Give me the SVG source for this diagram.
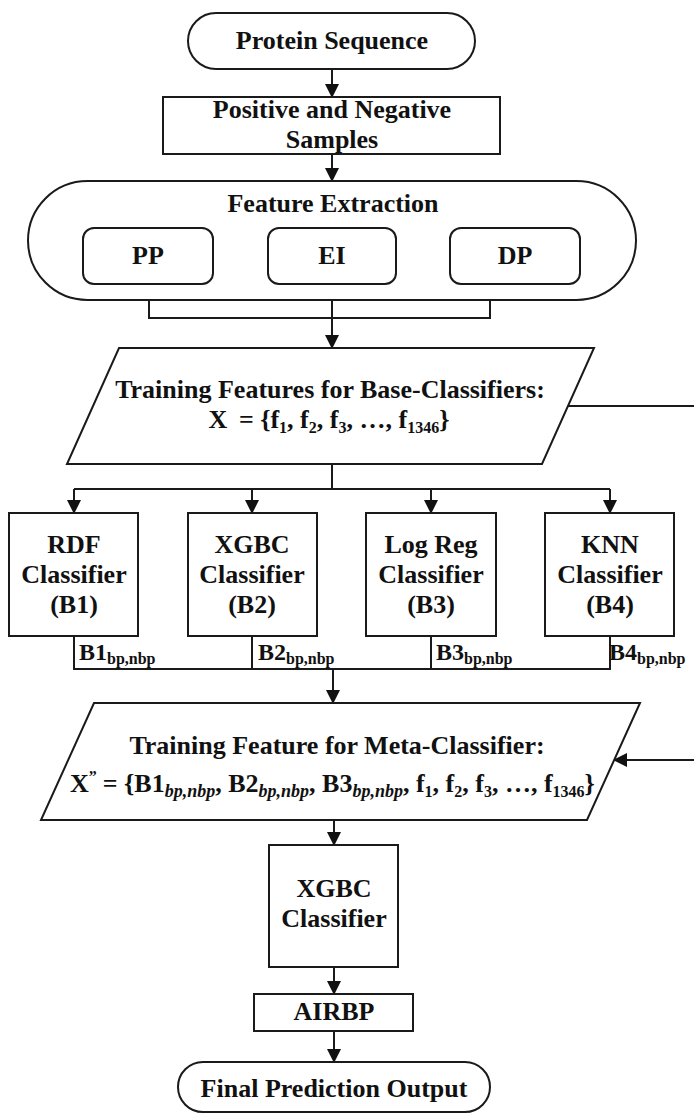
<svg xmlns="http://www.w3.org/2000/svg" width="694" height="1114" viewBox="0 0 694 1114">
<defs>
<style>
.s{fill:#fff;stroke:#1a1a1a;stroke-width:2}
.t{font-family:"Liberation Serif","Times New Roman",serif;font-weight:bold;font-size:26px;fill:#111;text-anchor:middle}
.l{font-family:"Liberation Serif","Times New Roman",serif;font-weight:bold;font-size:24px;fill:#111}
.sub{font-size:16px}
.msub{font-size:18px;font-style:italic}
.c{fill:none;stroke:#1a1a1a;stroke-width:2}
.a{fill:none;stroke:#1a1a1a;stroke-width:2;marker-end:url(#ah)}
</style>
<marker id="ah" markerUnits="userSpaceOnUse" markerWidth="14" markerHeight="14" viewBox="0 0 14 14" refX="13" refY="7" orient="auto">
<path d="M0,0 L14,7 L0,14 z" fill="#111"/>
</marker>
</defs>
<rect width="694" height="1114" fill="#fff"/>

<g id="connectors">
<path class="a" d="M332,69 V97"/>
<path class="a" d="M332,154 V181"/>
<path class="c" d="M149,284 V318 H490 V284"/>
<path class="a" d="M332,284 V348"/>
<path class="c" d="M332,464 V489 M74,489 H610"/>
<path class="a" d="M74,489 V513"/>
<path class="a" d="M252,489 V513"/>
<path class="a" d="M431,489 V513"/>
<path class="a" d="M610,489 V513"/>
<path class="c" d="M74,636 V669 H610 V636 M252,636 V669 M431,636 V669"/>
<path class="a" d="M333,669 V703"/>
<path class="a" d="M568,406 H700 V760 H614"/>
<path class="a" d="M334,820 V845"/>
<path class="a" d="M334,967 V994"/>
<path class="a" d="M334,1031 V1062"/>
</g>

<g id="protein-sequence">
<rect class="s" x="188" y="13" width="287" height="56" rx="28"/>
<text class="t" x="332" y="49">Protein Sequence</text>
</g>

<g id="samples">
<rect class="s" x="163" y="97" width="337" height="57"/>
<text class="t" x="332" y="118">Positive and Negative</text>
<text class="t" x="332" y="148">Samples</text>
</g>

<g id="feature-extraction">
<rect class="s" x="28" y="181" width="608" height="119" rx="59.5"/>
<text class="t" x="333" y="212">Feature Extraction</text>
</g>
<g id="pp">
<rect class="s" x="83" y="228" width="130" height="56" rx="11"/>
<text class="t" x="148" y="264">PP</text>
</g>
<g id="ei">
<rect class="s" x="268" y="228" width="128" height="56" rx="11"/>
<text class="t" x="332" y="264">EI</text>
</g>
<g id="dp">
<rect class="s" x="450" y="228" width="130" height="56" rx="11"/>
<text class="t" x="515" y="264">DP</text>
</g>

<g id="base-features">
<path class="s" d="M119,348 H594 L542,464 H67 Z"/>
<text class="t" x="330" y="398">Training Features for Base-Classifiers:</text>
<text class="t" x="329" y="428">X <tspan dx="5">= {f</tspan><tspan class="sub" dy="5">1</tspan><tspan dy="-5">, f</tspan><tspan class="sub" dy="5">2</tspan><tspan dy="-5">, f</tspan><tspan class="sub" dy="5">3</tspan><tspan dy="-5">, …, f</tspan><tspan class="sub" dy="5">1346</tspan><tspan dy="-5">}</tspan></text>
</g>

<g id="b1">
<rect class="s" x="9" y="513" width="129" height="123"/>
<text class="t" x="74" y="553">RDF</text>
<text class="t" x="74" y="583">Classifier</text>
<text class="t" x="74" y="613">(B1)</text>
</g>
<g id="b2">
<rect class="s" x="188" y="513" width="129" height="123"/>
<text class="t" x="252" y="553">XGBC</text>
<text class="t" x="252" y="583">Classifier</text>
<text class="t" x="252" y="613">(B2)</text>
</g>
<g id="b3">
<rect class="s" x="366" y="513" width="130" height="123"/>
<text class="t" x="431" y="553">Log Reg</text>
<text class="t" x="431" y="583">Classifier</text>
<text class="t" x="431" y="613">(B3)</text>
</g>
<g id="b4">
<rect class="s" x="545" y="513" width="129" height="123"/>
<text class="t" x="610" y="553">KNN</text>
<text class="t" x="610" y="583">Classifier</text>
<text class="t" x="610" y="613">(B4)</text>
</g>

<g id="labels">
<text class="l" x="79" y="660">B1<tspan class="sub" dy="4">bp,nbp</tspan></text>
<text class="l" x="258" y="660">B2<tspan class="sub" dy="4">bp,nbp</tspan></text>
<text class="l" x="436" y="660">B3<tspan class="sub" dy="4">bp,nbp</tspan></text>
<text class="l" x="609" y="660">B4<tspan class="sub" dy="4">bp,nbp</tspan></text>
</g>

<g id="meta-features">
<path class="s" d="M94,703 H640 L587,820 H41 Z"/>
<text class="t" x="337" y="754">Training Feature for Meta-Classifier:</text>
<text class="t" x="70" y="792" style="text-anchor:start">X<tspan class="sub" dy="-10">”</tspan><tspan dy="10" dx="6">= {B1</tspan><tspan class="msub" dy="5">bp,nbp</tspan><tspan dy="-5">, B2</tspan><tspan class="msub" dy="5">bp,nbp</tspan><tspan dy="-5">, B3</tspan><tspan class="msub" dy="5">bp,nbp</tspan><tspan dy="-5">, f</tspan><tspan class="sub" dy="5">1</tspan><tspan dy="-5">, f</tspan><tspan class="sub" dy="5">2</tspan><tspan dy="-5">, f</tspan><tspan class="sub" dy="5">3</tspan><tspan dy="-5">, …, f</tspan><tspan class="sub" dy="5">1346</tspan><tspan dy="-5">}</tspan></text>
</g>

<g id="meta-xgbc">
<rect class="s" x="269" y="845" width="129" height="122"/>
<text class="t" x="334" y="897">XGBC</text>
<text class="t" x="334" y="927">Classifier</text>
</g>

<g id="airbp">
<rect class="s" x="254" y="994" width="159" height="37"/>
<text class="t" x="334" y="1020">AIRBP</text>
</g>

<g id="final-output">
<rect class="s" x="178" y="1062" width="312" height="50" rx="25"/>
<text class="t" x="334" y="1097">Final Prediction Output</text>
</g>
</svg>
